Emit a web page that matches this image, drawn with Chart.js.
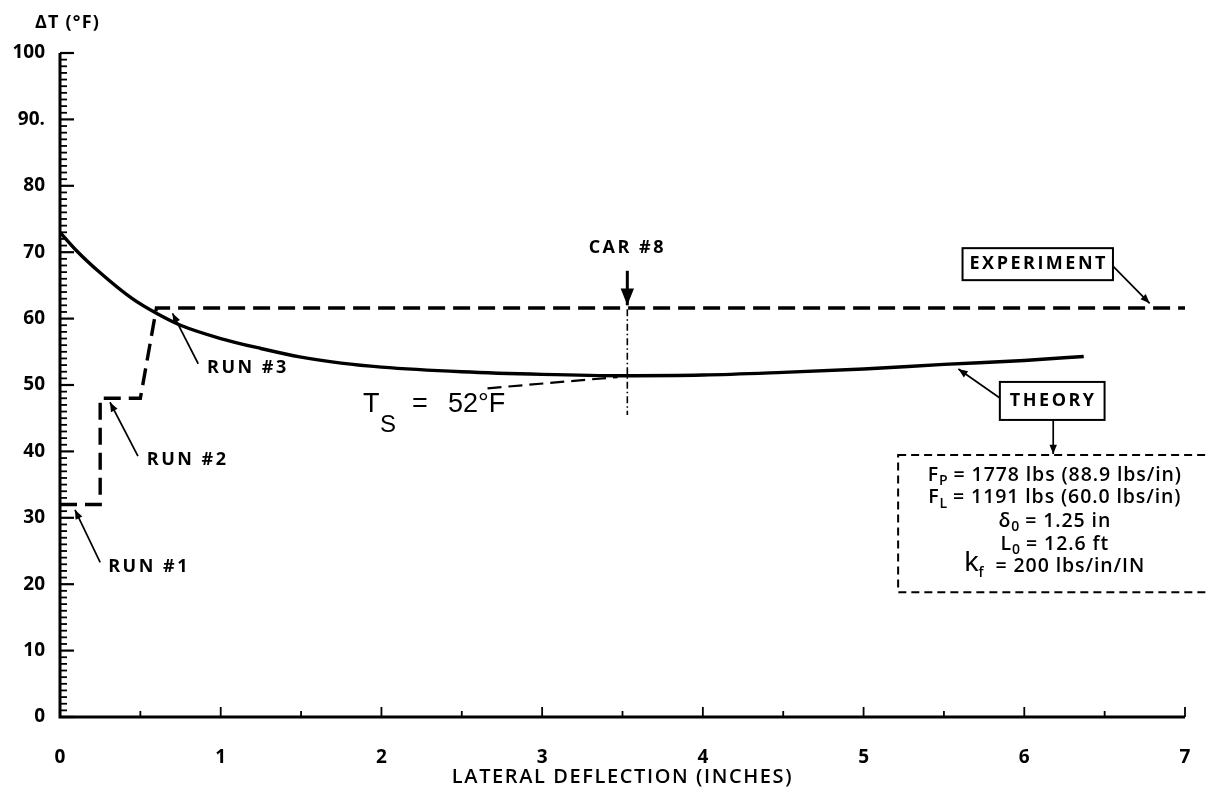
<!DOCTYPE html>
<html>
<head>
<meta charset="utf-8">
<script src="https://cdn.jsdelivr.net/npm/chart.js@4.4.1/dist/chart.umd.min.js"></script>
<style>
  html, body { margin: 0; padding: 0; background: #fff; }
  #wrap { width: 1208px; height: 802px; }
</style>
</head>
<body>
<div id="wrap"><canvas id="grafico" width="1208" height="802"></canvas></div>
<script>
// Curva teórica (THEORY)
const theoryX = [0, 0.1, 0.25, 0.45, 0.6, 0.75, 1, 1.25, 1.5, 1.75, 2, 2.5, 3, 3.5, 4, 4.5, 5, 5.5, 6, 6.37];
const theoryY = [73, 70.3, 66.9, 63.0, 60.8, 59.0, 57.0, 55.5, 54.2, 53.3, 52.7, 52.0, 51.6, 51.4, 51.5, 51.9, 52.4, 53.1, 53.7, 54.3];

// Degraus do experimento (RUN #1, #2, #3) e patamar final
const experimentX = [0, 0.25, 0.25, 0.5, 0.6, 7];
const experimentY = [32, 32, 48, 48, 61.6, 61.6];

// Marcas dos eixos
const xTicks = [0, 1, 2, 3, 4, 5, 6, 7];
const yTicks = [0, 10, 20, 30, 40, 50, 60, 70, 80, 90, 100];

const carX = 3.53; // posição do CAR #8
const tsValue = 52; // T_S = 52°F

// Texto da caixa de parâmetros: [texto, tipo]
const paramLines = [
  [["F", "n"], ["P", "sub"], [" = 1778 lbs (88.9 lbs/in)", "n"]],
  [["F", "n"], ["L", "sub"], [" = 1191 lbs (60.0 lbs/in)", "n"]],
  [["δ", "n"], ["0", "sub"], [" = 1.25 in", "n"]],
  [["L", "n"], ["0", "sub"], [" = 12.6 ft", "n"]],
  [["k", "big"], ["f", "sub"], ["  = 200 lbs/in/IN", "n"]],
];

Chart.defaults.font.family = "'Open Sans', sans-serif";
Chart.defaults.color = "#000";

const labelFont = "700 18px 'Open Sans'";
const fonts = {
  n: "600 19.5px 'Open Sans'",
  sub: "600 14px 'Open Sans'",
  big: "400 28px 'Liberation Sans'",
};

function toPoints(xs, ys) {
  return xs.map((v, i) => ({ x: v, y: ys[i] }));
}

// Desenha uma seta de (x1,y1) até (x2,y2)
function seta(c, x1, y1, x2, y2, size) {
  c.beginPath();
  c.moveTo(x1, y1);
  c.lineTo(x2, y2);
  c.stroke();
  const a = Math.atan2(y2 - y1, x2 - x1);
  c.beginPath();
  c.moveTo(x2, y2);
  c.lineTo(x2 - size * Math.cos(a - 0.38), y2 - size * Math.sin(a - 0.38));
  c.lineTo(x2 - size * Math.cos(a + 0.38), y2 - size * Math.sin(a + 0.38));
  c.closePath();
  c.fill();
}

function texto(c, str, x, y, font, align, spacing) {
  c.font = font;
  c.letterSpacing = (spacing || 0) + "px";
  c.textAlign = align || "left";
  c.textBaseline = "middle";
  c.fillText(str, x, y);
  return c.measureText(str).width;
}

// Texto com subscritos, centrado em cx
function textoRico(c, segs, cx, cy) {
  let total = 0;
  const parts = segs.map(([t, k]) => {
    c.font = fonts[k];
    c.letterSpacing = k === "n" ? "0.9px" : "0px";
    const w = c.measureText(t).width;
    total += w;
    return { t, k, w };
  });
  let x = cx - total / 2;
  c.textAlign = "left";
  c.textBaseline = "middle";
  parts.forEach((p) => {
    c.font = fonts[p.k];
    c.letterSpacing = p.k === "n" ? "0.9px" : "0px";
    const dy = p.k === "sub" ? 6 : p.k === "big" ? -4 : 0;
    c.fillText(p.t, x, cy + dy);
    x += p.w;
  });
}

// Eixos com marcas para dentro, como no original
const eixos = {
  id: "eixos",
  afterDraw(chart) {
    const c = chart.ctx;
    const { x, y } = chart.scales;
    const x0 = x.getPixelForValue(0);
    const x7 = x.getPixelForValue(7);
    const y0 = y.getPixelForValue(0);
    const y100 = y.getPixelForValue(100);
    c.save();
    c.strokeStyle = "#000";
    c.lineWidth = 3;
    c.beginPath();
    c.moveTo(x0, y100);
    c.lineTo(x0, y0);
    c.lineTo(x7, y0);
    c.stroke();
    // marcas do eixo Y, de 1 em 1
    for (let v = 0; v <= 100; v++) {
      const py = y.getPixelForValue(v);
      c.lineWidth = v % 10 === 0 ? 2.2 : 1.8;
      c.beginPath();
      c.moveTo(x0, py);
      c.lineTo(x0 + (v % 10 === 0 ? 14 : 7), py);
      c.stroke();
    }
    // marcas do eixo X, de 0,5 em 0,5
    for (let v = 0.5; v <= 7; v += 0.5) {
      const px = x.getPixelForValue(v);
      c.lineWidth = 1.8;
      c.beginPath();
      c.moveTo(px, y0);
      c.lineTo(px, y0 - (v % 1 === 0 ? 10 : 6));
      c.stroke();
    }
    c.restore();
  },
};

// Anotações: rótulos, setas e caixas
const anotacoes = {
  id: "anotacoes",
  afterDraw(chart) {
    const c = chart.ctx;
    const { x, y } = chart.scales;
    const X = (v) => x.getPixelForValue(v);
    const Y = (v) => y.getPixelForValue(v);
    c.save();
    c.fillStyle = "#000";
    c.strokeStyle = "#000";

    // título do eixo Y e do eixo X
    texto(c, "ΔT (°F)", 35, 23, "700 18px 'Open Sans'", "left", 1.2);
    texto(c, "LATERAL DEFLECTION (INCHES)", X(3.5), 777, "600 20px 'Open Sans'", "center", 1.6);

    // RUN #1, #2, #3
    c.lineWidth = 1.7;
    texto(c, "RUN #1", X(0.3), Y(22.6), labelFont, "left", 2.5);
    seta(c, X(0.25), Y(23.3), X(0.093), Y(31.2), 10);
    texto(c, "RUN #2", X(0.54), Y(38.7), labelFont, "left", 2.5);
    seta(c, X(0.485), Y(39.3), X(0.311), Y(47.4), 10);
    texto(c, "RUN #3", X(0.915), Y(52.6), labelFont, "left", 2.5);
    seta(c, X(0.86), Y(53.2), X(0.7), Y(60.8), 10);

    // CAR #8
    texto(c, "CAR #8", X(carX), Y(70.6), labelFont, "center", 2.5);
    c.lineWidth = 3;
    seta(c, X(carX), Y(67.2), X(carX), Y(62), 18);
    c.lineWidth = 1.6;
    c.setLineDash([7, 3, 1.5, 3]);
    c.beginPath();
    c.moveTo(X(carX), Y(61.4));
    c.lineTo(X(carX), Y(45.5));
    c.stroke();

    // T_S = 52°F com linha tracejada até a curva
    c.setLineDash([14, 7]);
    c.lineWidth = 2.2;
    c.beginPath();
    c.moveTo(X(2.66), Y(49.5));
    c.lineTo(X(3.47), Y(51.2));
    c.stroke();
    c.setLineDash([]);
    const tx = X(1.885);
    const ty = Y(47);
    texto(c, "T", tx, ty, "27px 'Liberation Sans'", "left", 0);
    texto(c, "S", tx + 17, ty + 20, "24px 'Liberation Sans'", "left", 0);
    texto(c, "=", tx + 49, ty, "27px 'Liberation Sans'", "left", 0);
    texto(c, tsValue + "°F", tx + 85, ty, "27px 'Liberation Sans'", "left", 0);

    // caixa EXPERIMENT
    c.lineWidth = 2;
    c.font = labelFont;
    c.letterSpacing = "2.5px";
    let w = c.measureText("EXPERIMENT").width;
    let cx = X(6.09);
    let cy = Y(68.2);
    c.strokeRect(cx - w / 2 - 7, cy - 16, w + 12, 32);
    texto(c, "EXPERIMENT", cx - w / 2, cy, labelFont, "left", 2.5);
    c.lineWidth = 1.7;
    seta(c, cx - w / 2 + w + 5, cy + 2, X(6.78), Y(62.3), 10);

    // caixa THEORY
    c.lineWidth = 2;
    c.font = labelFont;
    c.letterSpacing = "2.5px";
    w = c.measureText("THEORY").width;
    cx = X(6.18);
    cy = Y(47.6);
    c.strokeRect(cx - w / 2 - 10, cy - 19, w + 18, 38);
    texto(c, "THEORY", cx - w / 2, cy, labelFont, "left", 2.5);
    c.lineWidth = 1.7;
    seta(c, cx - w / 2 - 10, cy - 3, X(5.59), Y(52.4), 10);
    seta(c, cx, cy + 19, cx, Y(39.6), 10);

    // caixa tracejada de parâmetros
    c.lineWidth = 2;
    c.setLineDash([8, 5]);
    c.strokeRect(X(5.215), Y(39.46), X(7.2) - X(5.215), Y(18.8) - Y(39.46));
    c.setLineDash([]);
    const lineVals = [36.45, 33.0, 29.5, 26.05, 22.6];
    paramLines.forEach((segs, i) => textoRico(c, segs, X(6.19), Y(lineVals[i])));

    c.restore();
  },
};

const grafico = new Chart(document.getElementById("grafico").getContext("2d"), {
  type: "line",
  data: {
    datasets: [
      {
        label: "THEORY",
        data: toPoints(theoryX, theoryY),
        borderColor: "#000",
        borderWidth: 3.4,
        pointRadius: 0,
        cubicInterpolationMode: "monotone",
        fill: false,
      },
      {
        label: "EXPERIMENT",
        data: toPoints(experimentX, experimentY),
        borderColor: "#000",
        borderWidth: 3.4,
        borderDash: [17, 8],
        pointRadius: 0,
        tension: 0,
        fill: false,
      },
    ],
  },
  options: {
    responsive: false,
    animation: false,
    devicePixelRatio: 1,
    layout: { padding: { left: 0, right: 23, top: 53, bottom: 0 } },
    plugins: { legend: { display: false }, tooltip: { enabled: false } },
    scales: {
      x: {
        type: "linear",
        min: 0,
        max: 7,
        afterFit: (s) => {
          s.height = 85;
          s.paddingLeft = 0;
          s.paddingRight = 0;
        },
        afterBuildTicks: (s) => { s.ticks = xTicks.map((v) => ({ value: v })); },
        grid: { display: false, drawTicks: false },
        border: { display: false },
        ticks: { padding: 29, font: { size: 19, weight: "700" }, color: "#000" },
      },
      y: {
        min: 0,
        max: 100,
        afterFit: (s) => { s.width = 60; },
        afterBuildTicks: (s) => { s.ticks = yTicks.map((v) => ({ value: v })); },
        grid: { display: false, drawTicks: false },
        border: { display: false },
        ticks: {
          padding: 15,
          font: { size: 19, weight: "700" },
          color: "#000",
          callback: (v) => (v === 90 ? "90." : v),
        },
      },
    },
  },
  plugins: [eixos, anotacoes],
});
</script>
</body>
</html>
